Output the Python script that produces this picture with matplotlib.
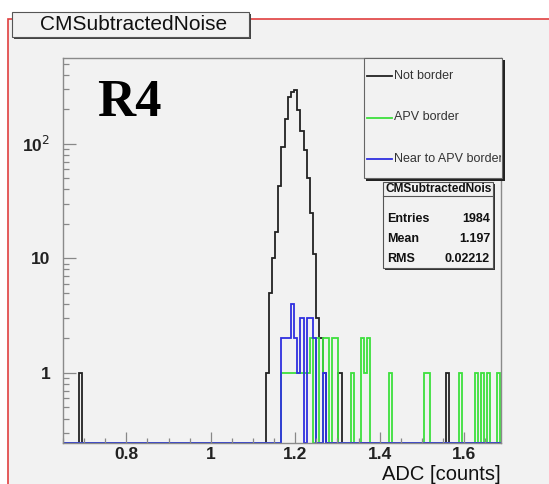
import matplotlib
matplotlib.use("Agg")
import matplotlib.pyplot as plt
import numpy as np
from matplotlib.patches import Rectangle
from matplotlib.lines import Line2D
from matplotlib.transforms import Bbox
from matplotlib.ticker import FixedLocator, MultipleLocator, LogLocator, NullFormatter

# Histogram binning (uniform grid)
bin_w = 0.0075
x_lo = 0.65
n_bins = 139

# "Not border" (left edges of non-empty bins, counts)
black_x = [0.6875, 1.13, 1.1375, 1.145, 1.1525, 1.16, 1.1675, 1.175, 1.1825, 1.19,
           1.1975, 1.205, 1.2125, 1.22, 1.2275, 1.235, 1.2425, 1.25, 1.2575, 1.265,
           1.3025, 1.5575]
black_n = [1, 1, 5, 10, 17, 43, 93, 163, 254, 282,
           294, 199, 130, 89, 50, 25, 11, 3, 2, 1,
           1, 1]

# "APV border"
green_x = [1.1675, 1.175, 1.1825, 1.19, 1.1975, 1.205, 1.2125, 1.22, 1.2275,
           1.235, 1.25, 1.265, 1.2725, 1.2875, 1.295,
           1.3325, 1.355, 1.3625, 1.37, 1.4225, 1.505, 1.5125,
           1.5875, 1.625, 1.64, 1.655, 1.6775]
green_n = [1, 1, 1, 1, 1, 1, 1, 1, 1,
           2, 2, 2, 2, 2, 2,
           1, 2, 1, 2, 1, 1, 1,
           1, 1, 1, 1, 1]

# "Near to APV border"
blue_x = [1.1675, 1.175, 1.1825, 1.19, 1.1975, 1.205, 1.2125, 1.2275, 1.235, 1.2425, 1.265]
blue_n = [2, 2, 2, 4, 2, 1, 3, 3, 3, 2, 1]

labels = ["Not border", "APV border", "Near to APV border"]
colors = ["#222222", "#3de03d", "#3030e0"]

stats_title = "CMSubtractedNoise"
stats_rows = [("Entries", "1984"), ("Mean", "1.197"), ("RMS", "0.02212")]

y_min, y_max = 0.245, 560


def to_counts(xs, ns):
    c = np.zeros(n_bins)
    for x, n in zip(xs, ns):
        c[int(round((x - x_lo) / bin_w))] = n
    return c


edges = x_lo + bin_w * np.arange(n_bins + 1)

W, H = 549, 484
fig = plt.figure(figsize=(W / 100, H / 100), dpi=100)
fig.patch.set_facecolor("white")


def fx(px):
    return px / W


def fy(py):
    return 1 - py / H


def frect(x0, y0, x1, y1, **kw):
    # rectangle given in pixel coords (top-left origin)
    r = Rectangle((fx(x0), fy(y1)), fx(x1) - fx(x0), fy(y0) - fy(y1),
                  transform=fig.transFigure, **kw)
    fig.add_artist(r)
    return r


def pxbox(x0, y0, x1, y1):
    # clip box in display coords
    return Bbox([[x0, H - y1], [x1, H - y0]])


# canvas with red border (behind the axes)
frect(8, 19, 560, 500, facecolor="#f2f2f2", edgecolor="#e04040", lw=1.2, zorder=-5)

ax = fig.add_axes([fx(63), fy(443), fx(501) - fx(63), fy(58) - fy(443)])
ax.set_facecolor("#f2f2f2")
ax.set_yscale("log")

for xs, ns, col in [(black_x, black_n, colors[0]), (green_x, green_n, colors[1]),
                    (blue_x, blue_n, colors[2])]:
    vals = np.maximum(to_counts(xs, ns), y_min)
    ax.stairs(vals, edges, baseline=y_min, color=col, lw=1.3)

ax.set_xlim(0.65, 1.6875)
ax.set_ylim(y_min, y_max)

ax.xaxis.set_major_locator(FixedLocator([0.8, 1.0, 1.2, 1.4, 1.6]))
ax.xaxis.set_minor_locator(MultipleLocator(0.05))
ax.set_xticklabels(["0.8", "1", "1.2", "1.4", "1.6"])
ax.yaxis.set_major_locator(FixedLocator([1, 10, 100]))
ax.yaxis.set_minor_locator(LogLocator(base=10, subs=np.arange(2, 10)))
ax.yaxis.set_minor_formatter(NullFormatter())
ax.set_yticklabels(["1", "10", "10$^{2}$"])

ax.tick_params(axis="x", which="major", direction="in", length=8, width=0.9,
               color="#888888", pad=3, labelsize=12.5)
ax.tick_params(axis="x", which="minor", direction="in", length=3.6, width=0.9,
               color="#888888")
ax.tick_params(axis="y", which="major", direction="in", length=9, width=0.9,
               color="#888888", pad=9, labelsize=12.5)
ax.tick_params(axis="y", which="minor", direction="in", length=4.5, width=0.9,
               color="#888888")
for lab in ax.get_xticklabels() + ax.get_yticklabels():
    lab.set_fontfamily("Liberation Sans")
    lab.set_fontweight("bold")
    lab.set_color("#222222")
for s in ax.spines.values():
    s.set_color("#8a8a8a")
    s.set_linewidth(1.0)

fig.text(fx(501), fy(475), "ADC [counts]", ha="right", va="center",
         fontsize=14.5, family="Liberation Sans", color="#111111")

# big label
ax.text(fx(97), fy(103), "R4", transform=fig.transFigure, ha="left", va="center",
        fontsize=38, fontweight="bold", family="Liberation Serif", color="black")

# title box
frect(14, 14, 251, 39, facecolor="#444444", edgecolor="none")
frect(12, 12, 249, 37, facecolor="#f2f2f2", edgecolor="#555555", lw=0.8)
fig.text(fx(134), fy(24.5), "CMSubtractedNoise", ha="center", va="center",
         fontsize=15, family="Liberation Sans", color="#111111")

# legend box
frect(366, 60, 505, 181, facecolor="#222222", edgecolor="none")
frect(364, 58, 502, 178, facecolor="#f2f2f2", edgecolor="#666666", lw=0.8)
for i, (lab, col) in enumerate(zip(labels, colors)):
    yy = fy(76 + i * 41.5)
    fig.add_artist(Line2D([fx(367), fx(392)], [yy, yy], color=col, lw=1.3,
                          transform=fig.transFigure))
    t = fig.text(fx(394), yy, lab, ha="left", va="center", fontsize=9,
                 family="Liberation Sans", color="#333333")
    t.set_clip_box(pxbox(364, 58, 501, 178))
    t.set_clip_on(True)

# stats box
frect(385, 184, 495, 270, facecolor="#333333", edgecolor="none")
frect(383, 182, 493, 268, facecolor="#f2f2f2", edgecolor="#555555", lw=0.8)
t = fig.text(fx(385), fy(188.5), stats_title, ha="left", va="center", fontsize=8.6,
             fontweight="bold", family="Liberation Sans", color="#111111")
t.set_clip_box(pxbox(383, 182, 492, 268))
t.set_clip_on(True)
fig.add_artist(Line2D([fx(383), fx(493)], [fy(195.5), fy(195.5)], color="#555555",
                      lw=0.8, transform=fig.transFigure))
for i, (k, v) in enumerate(stats_rows):
    yy = fy(219 + i * 20)
    fig.text(fx(387), yy, k, ha="left", va="center", fontsize=9, fontweight="bold",
             family="Liberation Sans", color="#111111")
    fig.text(fx(490), yy, v, ha="right", va="center", fontsize=9, fontweight="bold",
             family="Liberation Sans", color="#111111")

fig.savefig("out.png", dpi=100)
